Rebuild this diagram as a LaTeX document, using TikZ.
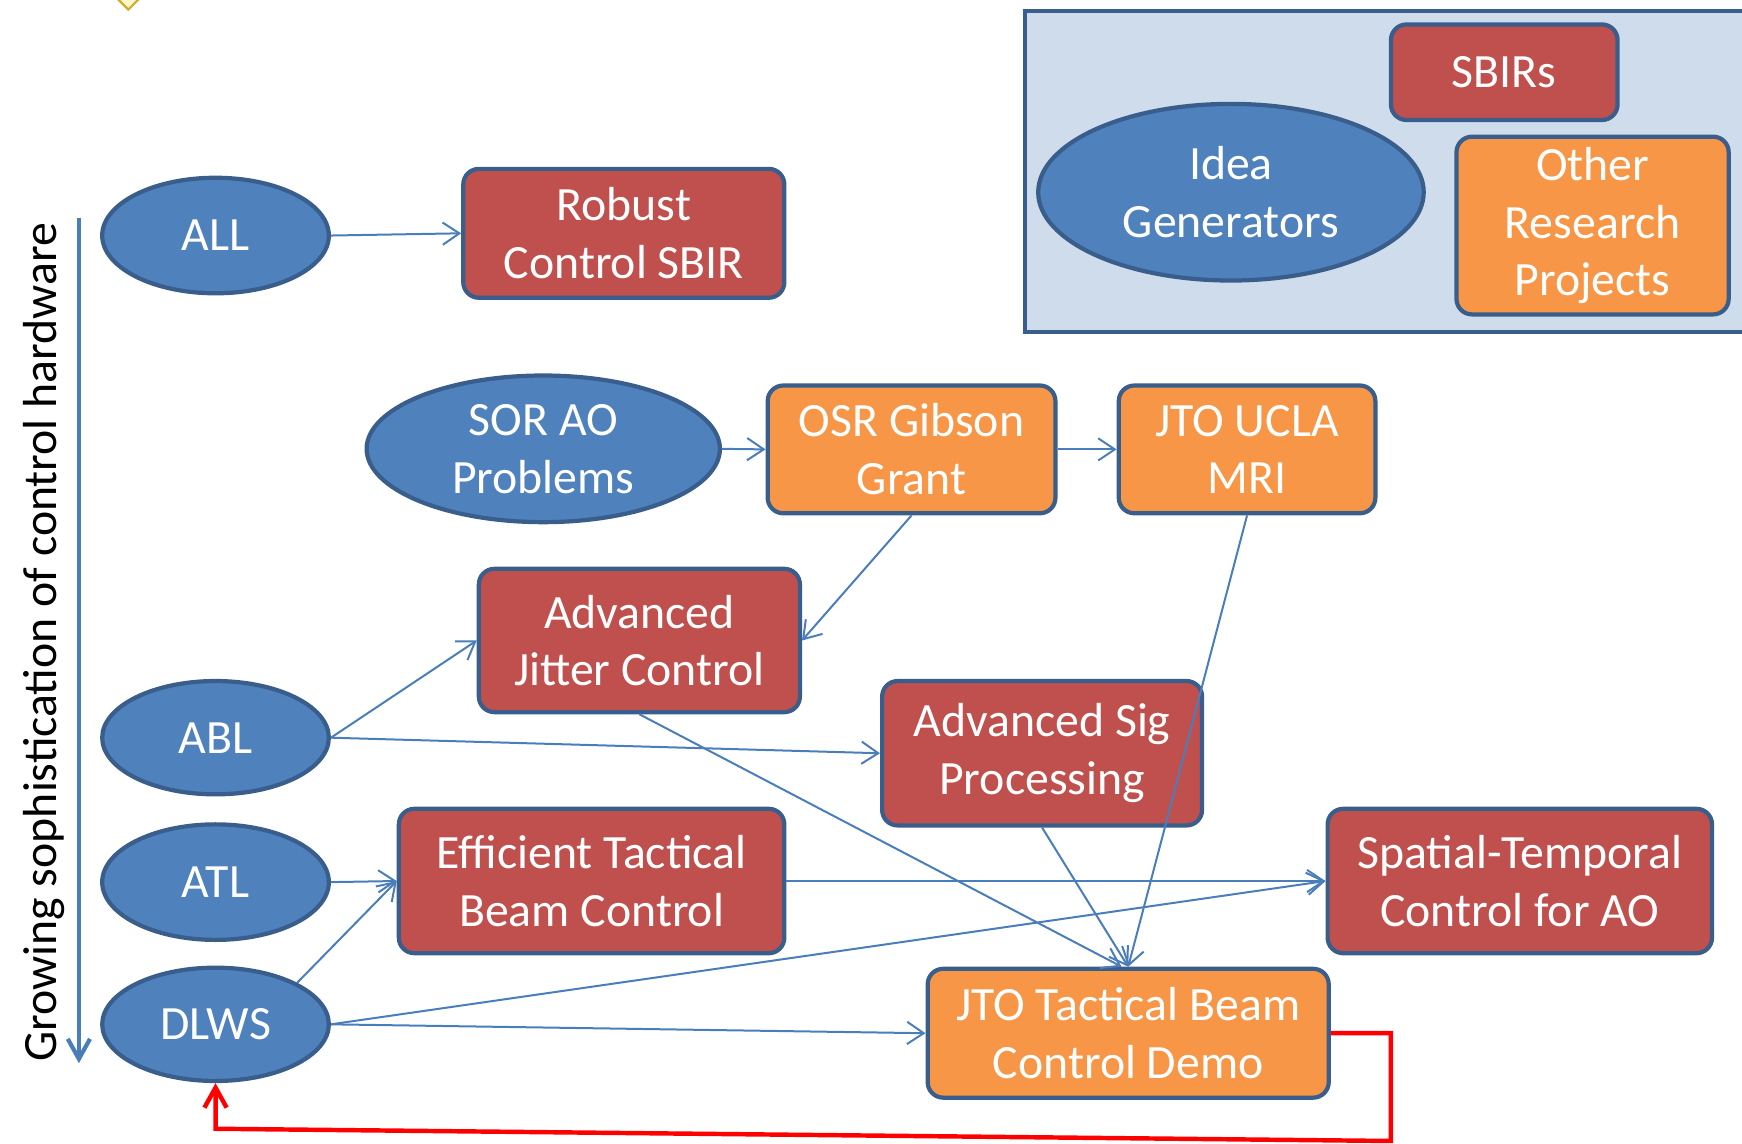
\documentclass[tikz,border=0pt]{standalone}
\usepackage{fontspec}
\setmainfont{Carlito}
\usetikzlibrary{shapes.geometric,arrows.meta}
\definecolor{blu}{HTML}{4F81BD}
\definecolor{bord}{HTML}{3A5E8B}
\definecolor{redc}{HTML}{C0504D}
\definecolor{orgc}{HTML}{F79646}
\definecolor{legfill}{HTML}{CFDCEC}
\definecolor{lineb}{HTML}{4A7EBB}
\definecolor{redl}{HTML}{FF0000}
\definecolor{yelline}{HTML}{C8B030}
\definecolor{yelfill}{HTML}{FFF6D0}
\tikzset{
  base/.style={draw=bord, line width=1.9pt, text=white, font=\fontsize{21.5}{26}\selectfont, align=center, inner sep=0pt},
  oval/.style={base, ellipse, fill=blu},
  redbox/.style={base, rounded corners=7pt, fill=redc},
  orgbox/.style={base, rounded corners=7pt, fill=orgc},
  conn/.style={draw=lineb, line width=0.9pt, -{Straight Barb[length=7.5pt,width=10pt]}},
  redconn/.style={draw=redl, line width=2pt, -{Straight Barb[length=9pt,width=10pt]}},
  axisarrow/.style={draw=lineb, line width=1.9pt, -{Straight Barb[length=9pt,width=10pt]}},
}
\begin{document}
\begin{tikzpicture}[x=0.5pt,y=-0.5pt]
\useasboundingbox (0,0) rectangle (1568,1029);
\clip (0,0) rectangle (1568,1029);
% decorative diamond at top left
\node[diamond, draw=yelline, fill=yelfill, line width=1pt, minimum width=17pt, minimum height=17pt, inner sep=0pt] (deco) at (115.5,-8) {};
% legend
\node[draw=bord, fill=legfill, line width=1.9pt, minimum width=332pt, minimum height=144.5pt, anchor=north west, inner sep=0pt] (legend) at (921,8) {};
\node[redbox, minimum width=102pt, minimum height=43pt] (sbirs) at (1354,65) {SBIRs};
\node[oval, minimum width=173.5pt, minimum height=79.5pt] (idea) at (1108,173) {Idea\\Generators};
\node[orgbox, minimum width=122.5pt, minimum height=80pt] (other) at (1433.5,203) {Other\\Research\\Projects};
% main nodes
\node[oval, minimum width=102pt, minimum height=52pt] (all) at (194,212) {ALL};
\node[redbox, minimum width=144.5pt, minimum height=58pt] (robust) at (561.5,210) {Robust\\Control SBIR};
\node[oval, minimum width=159pt, minimum height=66pt] (sor) at (489,404) {SOR AO\\Problems};
\node[orgbox, minimum width=129.5pt, minimum height=57.5pt] (osr) at (820.5,404.5) {OSR Gibson\\Grant};
\node[orgbox, minimum width=115.5pt, minimum height=57.5pt] (ucla) at (1122.5,404.5) {JTO UCLA\\MRI};
\node[redbox, minimum width=144.5pt, minimum height=64.5pt] (ajc) at (575.5,576.5) {Advanced\\Jitter Control};
\node[oval, minimum width=102pt, minimum height=51pt] (abl) at (194,664) {ABL};
\node[redbox, minimum width=144pt, minimum height=65pt] (asp) at (938,678) {Advanced Sig\\Processing};
\node[oval, minimum width=102pt, minimum height=52pt] (atl) at (194,794) {ATL};
\node[redbox, minimum width=173.5pt, minimum height=65pt] (etb) at (532.5,793) {Efficient Tactical\\Beam Control};
\node[redbox, minimum width=173pt, minimum height=65pt] (stc) at (1368,793) {Spatial-Temporal\\Control for AO};
\node[oval, minimum width=102pt, minimum height=51pt] (dlws) at (194,922) {DLWS};
\node[orgbox, minimum width=180.5pt, minimum height=58pt] (jtd) at (1015.5,930) {JTO Tactical Beam\\Control Demo};
% axis
\coordinate (vtop) at (71,196);
\coordinate (vbot) at (71,957);
\draw[axisarrow] (vtop) -- (vbot);
\node[rotate=90, font=\fontsize{21.5}{26}\selectfont, inner sep=0pt] (axlabel) at (40,578) {Growing sophistication of control hardware};
% connectors
\draw[conn] (all.east) -- (robust.west);
\draw[conn] (sor.east) -- (osr.west);
\draw[conn] (osr.east) -- (ucla.west);
\draw[conn] (osr.south) -- (ajc.east);
\draw[conn] (abl.east) -- (ajc.west);
\draw[conn] (abl.east) -- (asp.west);
\draw[conn] (ajc.south) -- ([xshift=-3pt]jtd.north);
\draw[conn] (ucla.south) -- (jtd.north);
\draw[conn] (asp.south) -- (jtd.north);
\draw[conn] (atl.east) -- (etb.west);
\draw[conn] (dlws.north east) -- (etb.west);
\draw[conn] (etb.east) -- (stc.west);
\draw[conn] (dlws.east) -- (stc.west);
\draw[conn] (dlws.east) -- (jtd.west);
% red feedback
\coordinate (r1) at (1252,930);
\coordinate (r2) at (1252,1027);
\coordinate (r3) at (194,1016);
\draw[redconn] (jtd.east) -- (r1) -- (r2) -- (r3) -- (dlws.south);
\end{tikzpicture}
\end{document}
